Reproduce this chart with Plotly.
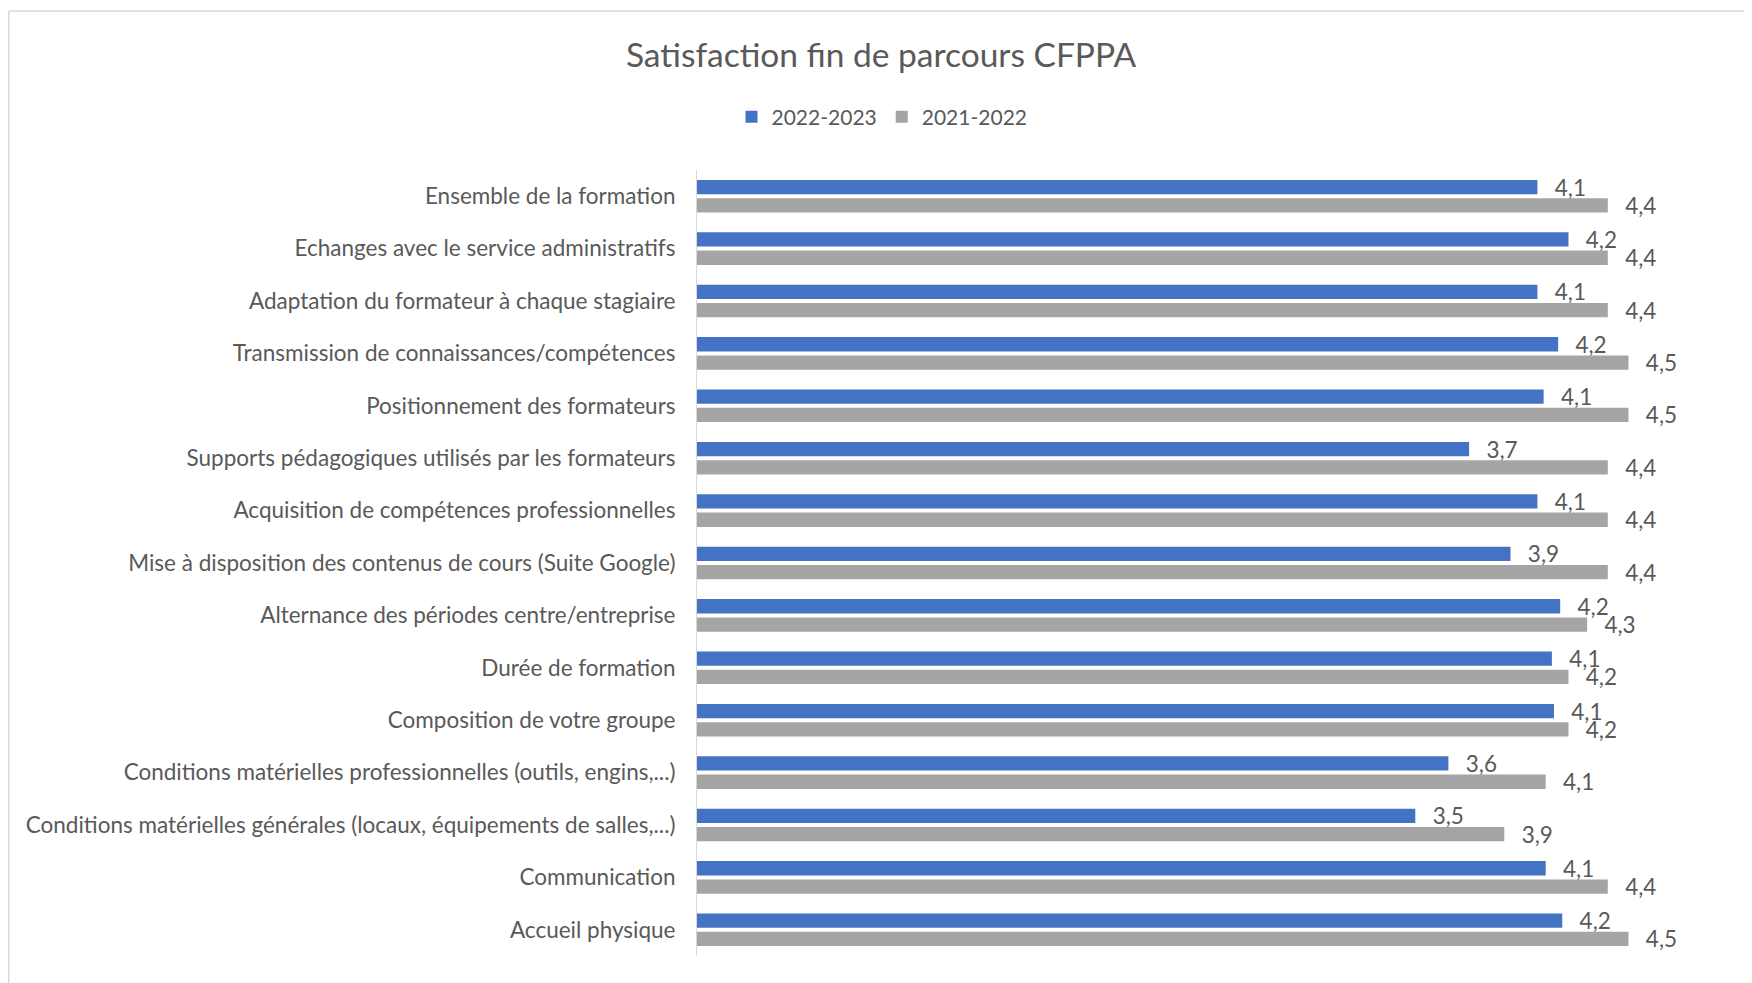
import plotly.graph_objects as go

categories = [
    "Ensemble de la formation",
    "Echanges avec le service administratifs",
    "Adaptation du formateur à chaque stagiaire",
    "Transmission de connaissances/compétences",
    "Positionnement des formateurs",
    "Supports pédagogiques utilisés par les formateurs",
    "Acquisition de compétences professionnelles",
    "Mise à disposition des contenus de cours (Suite Google)",
    "Alternance des périodes centre/entreprise",
    "Durée de formation",
    "Composition de votre groupe",
    "Conditions matérielles professionnelles (outils, engins,...)",
    "Conditions matérielles générales (locaux, équipements de salles,...)",
    "Communication",
    "Accueil physique",
]
series_names = ["2022-2023", "2021-2022"]
values_2022_2023 = [4.06, 4.21, 4.06, 4.16, 4.09, 3.73, 4.06, 3.93, 4.17, 4.13, 4.14, 3.63, 3.47, 4.10, 4.18]
values_2021_2022 = [4.40, 4.40, 4.40, 4.50, 4.50, 4.40, 4.40, 4.40, 4.30, 4.21, 4.21, 4.10, 3.90, 4.40, 4.50]
colors = ["#4472C4", "#A5A5A5"]

OFF = 8  # page body margin
W, H = 1752 - OFF, 983 - OFF
L, R, T, B = 697 - OFF, 20, 170 - OFF, 27
FONT = "Lato"
TXT = "#595959"


def fmt(v):
    return "\u00a0\u00a0\u2009" + f"{v:.1f}".replace(".", ",")


fig = go.Figure()
for name, vals, col in zip(series_names, [values_2022_2023, values_2021_2022], colors):
    fig.add_trace(go.Bar(
        name=name, y=categories, x=vals, orientation="h",
        marker=dict(color=col, line=dict(width=0)),
        text=[fmt(v) for v in vals], texttemplate="%{text}",
        textposition="outside", constraintext="none", cliponaxis=False,
        textfont=dict(family=FONT, size=22.5, color=TXT),
    ))

pw = W - L - R
ph = H - T - B


def px_x(p):
    return (p - OFF - L) / pw


def px_y(p):
    return 1 - (p - OFF - T) / ph


fig.update_layout(
    width=W, height=H,
    margin=dict(l=L, r=R, t=T, b=B, pad=0),
    paper_bgcolor="white", plot_bgcolor="white",
    barmode="group", bargap=0.30, bargroupgap=0.22,
    font=dict(family=FONT, size=22.5, color=TXT),
    title=dict(text="Satisfaction fin de parcours CFPPA",
               x=(881 - OFF) / W, xref="container", xanchor="center",
               y=1 - (55 - OFF) / H, yref="container", yanchor="middle",
               font=dict(family=FONT, size=33.5, color=TXT)),
    legend=dict(orientation="h", x=px_x(882), y=px_y(117),
                xanchor="center", yanchor="middle",
                font=dict(family=FONT, size=21, color=TXT),
                bgcolor="rgba(0,0,0,0)"),
    xaxis=dict(range=[0, 5], showgrid=False, zeroline=False,
               showticklabels=False, showline=False, ticks=""),
    yaxis=dict(autorange="reversed", showgrid=False, zeroline=False,
               showline=True, linecolor="#D9D9D9", linewidth=1,
               ticks="outside", ticklen=16, tickcolor="rgba(0,0,0,0)",
               tickfont=dict(family=FONT, size=22.5, color=TXT)),
    showlegend=True,
)

# chart border (top and left edges visible)
fig.add_shape(type="line", xref="paper", yref="paper",
              x0=px_x(8.75), x1=px_x(1752 + 10), y0=px_y(11), y1=px_y(11),
              line=dict(color="#D9D9D9", width=1.5))
fig.add_shape(type="line", xref="paper", yref="paper",
              x0=px_x(8.75), x1=px_x(8.75), y0=px_y(11), y1=px_y(983 + 10),
              line=dict(color="#D9D9D9", width=1.5))

fig.write_html("out.html")
